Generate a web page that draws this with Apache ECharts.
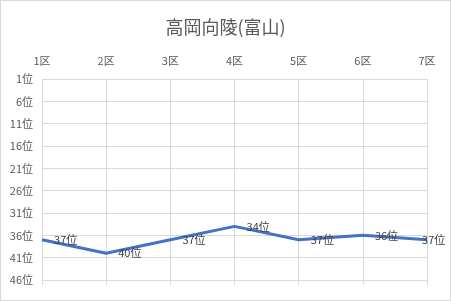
<!DOCTYPE html>
<html><head><meta charset="utf-8">
<script src="https://cdn.jsdelivr.net/npm/echarts@6/dist/echarts.min.js"></script>
<style>html,body{margin:0;padding:0;background:#fff}#c{width:449px;height:299px;border:1px solid #d9d9d9}</style>
</head><body><div id="c"></div>
<script>
const title = '高岡向陵(富山)';
const categories = ['1区','2区','3区','4区','5区','6区','7区'];
const ranks = [37, 40, 37, 34, 37, 36, 37];
const yMin = 1, yMax = 46, yStep = 5;

const font = '"Noto Sans CJK JP", "Noto Sans", sans-serif';
const chart = echarts.init(document.getElementById('c'));
const data = ranks.map((v, i) => ({
  value: v,
  label: i === ranks.length - 1 ? { offset: [-17, 0] } : {}
}));
chart.setOption({
  animation: false,
  title: { text: title, left: 'center', top: 12,
    textStyle: { fontFamily: font, fontSize: 18, fontWeight: 'normal', color: '#595959' } },
  grid: { left: 41, right: 23, top: 78, bottom: 20 },
  xAxis: [{
    type: 'category', data: categories, position: 'top', boundaryGap: false,
    axisLine: { show: false }, axisTick: { show: false },
    axisLabel: { fontFamily: font, fontSize: 11, color: '#595959', margin: 13 },
    splitLine: { show: true, lineStyle: { color: '#d9d9d9', width: 1 } }
  }, {
    type: 'category', data: categories, position: 'bottom', boundaryGap: false,
    axisLine: { show: false },
    axisTick: { show: true, length: 5, alignWithLabel: true, lineStyle: { color: '#d9d9d9' } },
    axisLabel: { show: false }
  }],
  yAxis: {
    type: 'value', inverse: true, min: yMin, max: yMax, interval: yStep,
    axisLine: { show: false }, axisTick: { show: false },
    axisLabel: { fontFamily: font, fontSize: 11, color: '#595959', margin: 9, formatter: v => v + '位' },
    splitLine: { lineStyle: { color: '#d9d9d9', width: 1 } }
  },
  series: [{
    type: 'line', data: data, xAxisIndex: 0,
    symbol: 'circle', symbolSize: 0.1,
    lineStyle: { color: '#4472C4', width: 3 },
    itemStyle: { color: '#4472C4' },
    label: { show: true, position: 'right', distance: 12, fontFamily: font, fontSize: 11,
      color: '#404040', formatter: p => p.value + '位' }
  }]
});
</script></body></html>
